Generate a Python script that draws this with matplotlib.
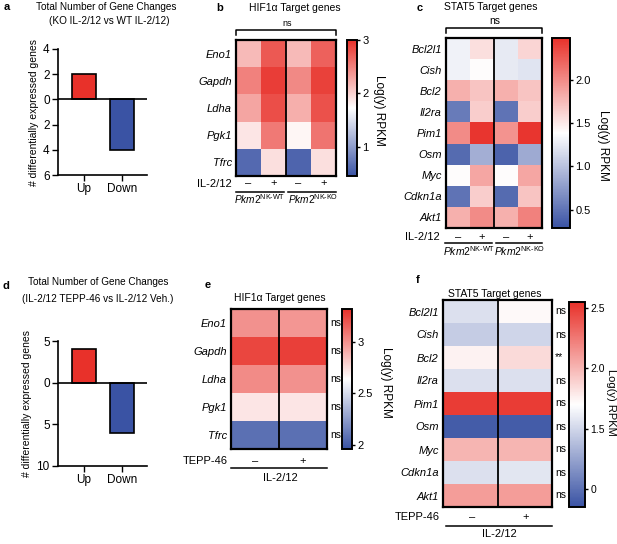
import numpy as np
import matplotlib
matplotlib.use("Agg")
import matplotlib.pyplot as plt
from matplotlib.colors import LinearSegmentedColormap
from matplotlib.lines import Line2D

plt.rcParams['font.family'] = ['Liberation Sans', 'DejaVu Sans']
plt.rcParams['mathtext.fontset'] = 'custom'
plt.rcParams['mathtext.rm'] = 'Liberation Sans'
plt.rcParams['mathtext.it'] = 'Liberation Sans:italic'

# ---- data ----
dir_labels = ['Up', 'Down']
counts_a = [2, 4]          # KO IL-2/12 vs WT IL-2/12
counts_d = [4, 6]          # TEPP-46 vs Veh.

hif_genes = ['Eno1', 'Gapdh', 'Ldha', 'Pgk1', 'Tfrc']
# columns: WT -, WT +, KO -, KO +
hif_b = [[2.15, 2.75, 2.15, 2.70],
         [2.50, 2.92, 2.45, 2.90],
         [2.28, 2.82, 2.22, 2.80],
         [1.88, 2.55, 1.78, 2.58],
         [0.62, 1.92, 0.58, 1.92]]

stat_genes = ['Bcl2l1', 'Cish', 'Bcl2', 'Il2ra', 'Pim1', 'Osm', 'Myc', 'Cdkn1a', 'Akt1']
stat_c = [[1.30, 1.55, 1.25, 1.60],
          [1.30, 1.40, 1.25, 1.22],
          [1.80, 1.70, 1.80, 1.70],
          [0.55, 1.65, 0.50, 1.65],
          [2.00, 2.45, 1.95, 2.45],
          [0.45, 0.88, 0.40, 0.85],
          [1.40, 1.85, 1.40, 1.85],
          [0.50, 1.65, 0.45, 1.70],
          [1.80, 2.00, 1.80, 2.05]]

# columns: Veh, TEPP-46
hif_e = [[3.00, 2.98],
         [3.25, 3.27],
         [3.02, 3.00],
         [2.72, 2.72],
         [2.08, 2.08]]
sig_e = ['ns'] * 5

stat_f = [[1.55, 1.72],
          [1.45, 1.50],
          [1.75, 1.85],
          [1.55, 1.55],
          [2.50, 2.50],
          [0.90, 0.90],
          [2.00, 2.00],
          [1.55, 1.58],
          [2.10, 2.10]]
sig_f = ['ns', 'ns', '**', 'ns', 'ns', 'ns', 'ns', 'ns', 'ns']

RED = '#e8312a'
BLUE = '#3a53a4'
cmap = LinearSegmentedColormap.from_list('bwr_n', [BLUE, '#ffffff', RED])

W, H = 617, 544
fig = plt.figure(figsize=(W / 100, H / 100), dpi=100)


def box(x0, y0, x1, y1):
    return [x0 / W, 1 - y1 / H, (x1 - x0) / W, (y1 - y0) / H]


def ftext(x, y, s, **kw):
    kw.setdefault('ha', 'center')
    kw.setdefault('va', 'center')
    fig.text(x / W, 1 - y / H, s, **kw)


def fline(xs, ys, lw=1.1):
    fig.add_artist(Line2D([x / W for x in xs], [1 - y / H for y in ys],
                          color='k', lw=lw, transform=fig.transFigure))


def bars(rect, vals, lim, ticks):
    ax = fig.add_axes(box(*rect))
    ax.bar([0, 1], [vals[0], -vals[1]], width=0.62, color=[RED, BLUE],
           edgecolor='k', lw=1.2, zorder=2)
    ax.axhline(0, color='k', lw=1.2, zorder=3)
    ax.set_xlim(-0.675, 1.64)
    ax.set_ylim(lim)
    ax.set_yticks(ticks, [str(abs(t)) for t in ticks])
    ax.set_xticks([0, 1], dir_labels)
    for s in ['top', 'right']:
        ax.spines[s].set_visible(False)
    for s in ['left', 'bottom']:
        ax.spines[s].set_linewidth(1.2)
    ax.tick_params(labelsize=8.5, length=4, width=1, pad=2)
    ax.set_ylabel('# differentially expressed genes', fontsize=7.5, labelpad=3)
    return ax


def heat(rect, data, genes, vmin, vmax):
    data = np.array(data)
    ax = fig.add_axes(box(*rect))
    im = ax.imshow(data, cmap=cmap, vmin=vmin, vmax=vmax, aspect='auto',
                   interpolation='nearest')
    ax.set_yticks(range(len(genes)), genes, fontstyle='italic', fontsize=8)
    ax.set_xticks([])
    ax.tick_params(axis='y', length=0, pad=3)
    for s in ax.spines.values():
        s.set_linewidth(1.6)
    ax.axvline(data.shape[1] / 2 - 0.5, color='k', lw=1.3)
    return ax, im


def cbar(rect, im, ticks, labels, label_xy, tsize=8, lsize=8.5):
    cax = fig.add_axes(box(*rect))
    cb = fig.colorbar(im, cax=cax)
    cb.set_ticks(ticks, labels=labels)
    cb.outline.set_linewidth(1.4)
    cax.tick_params(length=2.5, width=1, labelsize=tsize, pad=1.5)
    ftext(label_xy[0], label_xy[1], 'Log(y) RPKM', rotation=270, fontsize=lsize)
    return cb


# ---------- a ----------
ftext(7, 7, 'a', fontsize=8, fontweight='bold')
ftext(106, 7, 'Total Number of Gene Changes', fontsize=7.2)
ftext(109, 21, '(KO IL-2/12 vs WT IL-2/12)', fontsize=7.2)
bars((58, 49, 147, 175), counts_a, (-6, 4), [-6, -4, -2, 0, 2, 4])

# ---------- d ----------
ftext(6, 286, 'd', fontsize=8, fontweight='bold')
ftext(98, 282, 'Total Number of Gene Changes', fontsize=7.2)
ftext(98, 299, '(IL-2/12 TEPP-46 vs IL-2/12 Veh.)', fontsize=7.2)
bars((58, 341, 147, 466), counts_d, (-10, 5), [-10, -5, 0, 5])

# ---------- b ----------
ftext(220, 8, 'b', fontsize=8, fontweight='bold')
ftext(295, 8, 'HIF1α Target genes', fontsize=7.5)
axb, imb = heat((236, 40, 336, 176), hif_b, hif_genes, 0.45, 3.0)
cbar((347, 40, 357, 176), imb, [1, 2, 3], ['1', '2', '3'], (379, 110))
fline([236, 236, 336, 336], [35, 30, 30, 35])
ftext(287, 24, 'ns', fontsize=6.5)
ftext(232, 184, 'IL-2/12', fontsize=8, ha='right')
for i, s in enumerate(['–', '+', '–', '+']):
    ftext(236 + 12.5 + 25 * i, 183, s, fontsize=8)
fline([236, 284], [192, 192])
fline([288, 336], [192, 192])
ftext(260, 199, r'$\mathit{Pkm2}^{\mathrm{NK\text{-}WT}}$', fontsize=7.3)
ftext(313, 199, r'$\mathit{Pkm2}^{\mathrm{NK\text{-}KO}}$', fontsize=7.3)

# ---------- c ----------
ftext(420, 8, 'c', fontsize=8, fontweight='bold')
ftext(491, 7, 'STAT5 Target genes', fontsize=7.5)
axc, imc = heat((446, 38, 542, 228), stat_c, stat_genes, 0.29, 2.48)
cbar((552, 38, 570, 228), imc, [0.5, 1.0, 1.5, 2.0], ['0.5', '1.0', '1.5', '2.0'], (603, 145))
fline([446, 446, 542, 542], [33, 28, 28, 33])
ftext(495, 21, 'ns', fontsize=7.5)
ftext(440, 237, 'IL-2/12', fontsize=8, ha='right')
for i, s in enumerate(['–', '+', '–', '+']):
    ftext(446 + 12 + 24 * i, 237, s, fontsize=8)
fline([445, 492], [243, 243])
fline([496, 542], [243, 243])
ftext(469, 251, r'$\mathit{Pkm2}^{\mathrm{NK\text{-}WT}}$', fontsize=7.5)
ftext(520, 251, r'$\mathit{Pkm2}^{\mathrm{NK\text{-}KO}}$', fontsize=7.5)

# ---------- e ----------
ftext(208, 285, 'e', fontsize=8, fontweight='bold')
ftext(280, 298, 'HIF1α Target genes', fontsize=7.5)
axe, ime = heat((231, 309, 327, 449), hif_e, hif_genes, 1.96, 3.32)
for i, s in enumerate(sig_e):
    axe.text(1.03, 1 - (i + 0.5) / len(sig_e), s, transform=axe.transAxes,
             fontsize=7.5, ha='left', va='center')
cbar((342, 309, 352, 449), ime, [2, 2.5, 3], ['2', '2.5', '3'], (386, 382))
ftext(228, 461, 'TEPP-46', fontsize=8, ha='right')
ftext(255, 461, '–', fontsize=8)
ftext(303, 461, '+', fontsize=8)
fline([231, 327], [468, 468])
ftext(280, 478, 'IL-2/12', fontsize=8)

# ---------- f ----------
ftext(418, 280, 'f', fontsize=8, fontweight='bold')
ftext(495, 294, 'STAT5 Target genes', fontsize=7.5)
axf, imf = heat((443, 300, 552, 507), stat_f, stat_genes, 0.85, 2.55)
for i, s in enumerate(sig_f):
    axf.text(1.03, 1 - (i + 0.5) / len(sig_f), s, transform=axf.transAxes,
             fontsize=7.5, ha='left', va='center')
cbar((569, 302, 585, 507), imf, [1.0, 1.5, 2.0, 2.5], ['0', '1.5', '2.0', '2.5'],
     (611, 402), tsize=7.5, lsize=8)
ftext(440, 517, 'TEPP-46', fontsize=8, ha='right')
ftext(472, 517, '–', fontsize=8)
ftext(526, 517, '+', fontsize=8)
fline([446, 552], [526, 526])
ftext(499, 534, 'IL-2/12', fontsize=8)

fig.savefig('out.png', dpi=100)
